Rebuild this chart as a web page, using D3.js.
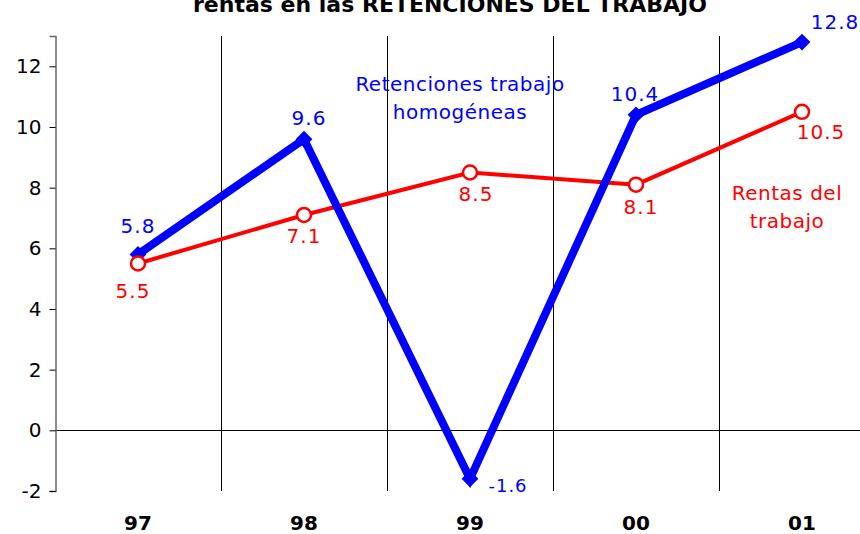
<!DOCTYPE html>
<html>
<head>
<meta charset="utf-8">
<script src="https://cdn.jsdelivr.net/npm/d3@7"></script>
<style>
  body { margin: 0; background: #fff; overflow: hidden; }
  svg { display: block; }
  svg text { font-family: "DejaVu Sans", Verdana, sans-serif; }
</style>
</head>
<body>
<div id="chart"></div>
<script>
var years = ["97", "98", "99", "00", "01"];
var retenciones = [5.8, 9.6, -1.6, 10.4, 12.8];
var rentas = [5.5, 7.1, 8.5, 8.1, 10.5];
var yTicks = [-2, 0, 2, 4, 6, 8, 10, 12];

var width = 860, height = 534;

var svg = d3.select("#chart").append("svg")
  .attr("width", width)
  .attr("height", height);

var x = d3.scaleBand().domain(years).range([55, 885]);
var y = d3.scaleLinear().domain([-2, 13]).range([491, 36]);
var cx = function(d, i){ return x(years[i]) + x.bandwidth() / 2; };

// title (cut at top like the original)
svg.append("text")
  .attr("x", 450).attr("y", 12)
  .attr("text-anchor", "middle")
  .style("font-weight", "bold").style("font-size", "22px")
  .text("rentas en las RETENCIONES DEL TRABAJO");

// vertical separators between years
svg.selectAll("line.sep")
  .data(years.slice(1))
  .enter().append("line")
  .attr("class", "sep")
  .attr("x1", function(d){ return Math.round(x(d)) + 0.5; })
  .attr("x2", function(d){ return Math.round(x(d)) + 0.5; })
  .attr("y1", y(13)).attr("y2", y(-2))
  .attr("stroke", "#000").attr("stroke-width", 1);

// zero line
svg.append("line")
  .attr("x1", 55).attr("x2", width)
  .attr("y1", Math.round(y(0)) + 0.5).attr("y2", Math.round(y(0)) + 0.5)
  .attr("stroke", "#000").attr("stroke-width", 1.2);

// y axis
var yAxis = svg.append("g")
  .attr("transform", "translate(55.5,0)")
  .call(d3.axisLeft(y).tickValues(yTicks).tickSize(6).tickPadding(8)
    .tickFormat(function(d){ return String(d); }));
yAxis.select(".domain").attr("stroke", "#666").attr("stroke-width", 1.5);
yAxis.selectAll(".tick line").attr("stroke", "#000");
yAxis.selectAll("text").style("font-size", "20px").style("font-family", "DejaVu Sans").attr("fill", "#000");

// year labels
svg.selectAll("text.year")
  .data(years)
  .enter().append("text")
  .attr("class", "year")
  .attr("x", function(d){ return x(d) + x.bandwidth() / 2; })
  .attr("y", 530)
  .attr("text-anchor", "middle")
  .style("font-weight", "bold").style("font-size", "20px")
  .text(function(d){ return d; });

var line = d3.line().x(cx).y(function(d){ return y(d); });

// red series: rentas del trabajo
svg.append("path")
  .datum(rentas)
  .attr("d", line)
  .attr("fill", "none").attr("stroke", "#ff0000").attr("stroke-width", 4);

// blue series: retenciones
svg.append("path")
  .datum(retenciones)
  .attr("d", line)
  .attr("fill", "none").attr("stroke", "#0000ff").attr("stroke-width", 8);

svg.selectAll("path.diamond")
  .data(retenciones)
  .enter().append("path")
  .attr("class", "diamond")
  .attr("d", d3.symbol().type(d3.symbolDiamond2).size(180))
  .attr("transform", function(d, i){ return "translate(" + cx(d, i) + "," + y(d) + ")"; })
  .attr("fill", "#0000ff");

svg.selectAll("circle.dot")
  .data(rentas)
  .enter().append("circle")
  .attr("class", "dot")
  .attr("cx", cx)
  .attr("cy", function(d){ return y(d); })
  .attr("r", 7)
  .attr("fill", "#fff").attr("stroke", "#ff0000").attr("stroke-width", 2.5);

// value labels (offsets from each point)
var blueOff = [[0, -21], [5, -14], [38, 13], [-1, -14], [33, -13]];
var redOff = [[-5, 34], [0, 28], [6, 28], [5, 29], [19, 27]];
var fmt = function(d){ return d.toFixed(1); };

svg.selectAll("text.blab")
  .data(retenciones)
  .enter().append("text")
  .attr("x", function(d, i){ return cx(d, i) + blueOff[i][0]; })
  .attr("y", function(d, i){ return y(d) + blueOff[i][1]; })
  .attr("text-anchor", "middle")
  .style("font-size", function(d){ return d < 0 ? "18px" : "20px"; })
  .style("letter-spacing", "1px")
  .attr("fill", "#0000ff")
  .text(fmt);

svg.selectAll("text.rlab")
  .data(rentas)
  .enter().append("text")
  .attr("x", function(d, i){ return cx(d, i) + redOff[i][0]; })
  .attr("y", function(d, i){ return y(d) + redOff[i][1]; })
  .attr("text-anchor", "middle")
  .style("font-size", "20px")
  .style("letter-spacing", "1px")
  .attr("fill", "#ff0000")
  .text(fmt);

// series names
var note = svg.append("text")
  .attr("text-anchor", "middle")
  .style("font-size", "20px").style("letter-spacing", "0.5px")
  .attr("fill", "#0000ff");
note.append("tspan").attr("x", 460).attr("y", 91).text("Retenciones trabajo");
note.append("tspan").attr("x", 460).attr("y", 119).text("homogéneas");

var note2 = svg.append("text")
  .attr("text-anchor", "middle")
  .style("font-size", "20px").style("letter-spacing", "0.5px")
  .attr("fill", "#ff0000");
note2.append("tspan").attr("x", 787).attr("y", 200).text("Rentas del");
note2.append("tspan").attr("x", 787).attr("y", 228).text("trabajo");
</script>
</body>
</html>
